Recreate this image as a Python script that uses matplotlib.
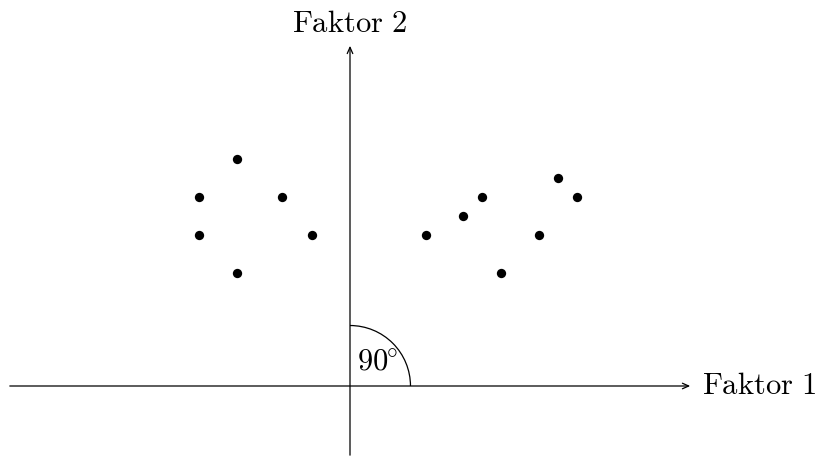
import matplotlib
matplotlib.use("Agg")
import matplotlib.pyplot as plt
from matplotlib.patches import Arc

plt.rcParams['mathtext.fontset'] = 'cm'

# factor loadings: two clusters of items
left_x = [-3, -4, -1.8, -4, -1, -3]
left_y = [6, 5, 5, 4, 4, 3]
right_x = [5.5, 6, 3.5, 3, 2, 5, 4]
right_y = [5.5, 5, 5, 4.5, 4, 4, 3]

axis_labels = ["Faktor 1", "Faktor 2"]
angle_label = r"$90^{\!\!\circ}$"

W, H, DPI = 817, 457, 100
unit = 37.8          # pixels per data unit
ox, oy = 350, 386    # origin in pixels

fig = plt.figure(figsize=(W / DPI, H / DPI), dpi=DPI)
ax = fig.add_axes([0, 0, 1, 1])
ax.set_xlim(-ox / unit, (W - ox) / unit)
ax.set_ylim(-(H - oy) / unit, oy / unit)
ax.axis('off')

arrow = dict(arrowstyle='->,head_length=0.45,head_width=0.2', lw=0.9,
             color='black', shrinkA=0, shrinkB=0)
ax.annotate('', xy=(9, 0), xytext=(-9, 0), arrowprops=arrow)
ax.annotate('', xy=(0, 9), xytext=(0, -1.83), arrowprops=arrow)

def mt(s):
    return r"$\mathrm{" + s.replace(" ", r"\ ") + "}$"

ax.text(9.3, 0, mt(axis_labels[0]), fontsize=22, ha='left', va='center')
ax.text(0, 9.2, mt(axis_labels[1]), fontsize=22, ha='center', va='bottom')

ax.add_patch(Arc((0, 0), 3.2, 3.2, theta1=0, theta2=90, lw=0.9, color='black'))
ax.text(0.72, 0.65, angle_label, fontsize=22, ha='center', va='center')

ax.scatter(left_x, left_y, s=45, color='black', zorder=3, linewidths=0)
ax.scatter(right_x, right_y, s=45, color='black', zorder=3, linewidths=0)

fig.savefig('out.png', dpi=DPI)
